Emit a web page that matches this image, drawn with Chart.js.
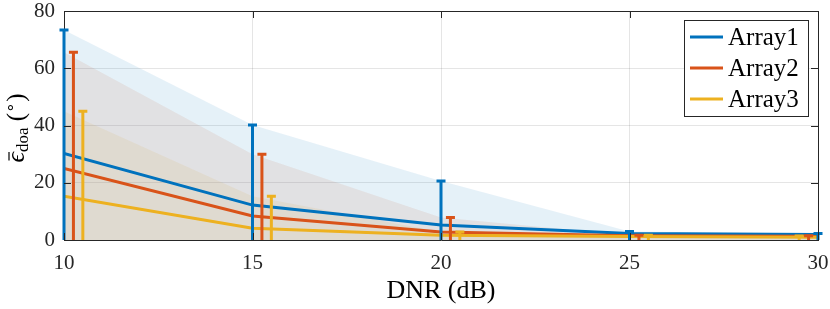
<!DOCTYPE html>
<html>
<head>
<meta charset="utf-8">
<script src="https://cdn.jsdelivr.net/npm/chart.js@4.4.0/dist/chart.umd.min.js"></script>
<style>
  html, body { margin: 0; padding: 0; background: #fff; }
  #wrap { width: 830px; height: 309px; }
</style>
</head>
<body>
<div id="wrap"><canvas id="doaChart"></canvas></div>
<script>
// DNR values on the x axis
const dnr = [10, 15, 20, 25, 30];

// mean error per array
const mean1 = [30.2, 12.2, 5.2, 2.3, 1.9];
const mean2 = [25.0, 8.4, 2.8, 1.5, 1.3];
const mean3 = [15.3, 4.1, 1.7, 1.2, 1.0];

// upper end of the error bars / shaded band
const upper1 = [73.4, 40.2, 20.6, 3.0, 2.3];
const upper2 = [65.6, 30.0, 7.9, 1.7, 1.5];
const upper3 = [45.0, 15.3, 2.8, 1.7, 1.4];

// error bars are nudged sideways so they do not overlap
const shift1 = [0, 0, 0, 0, 0];
const shift2 = [0.25, 0.25, 0.25, 0.25, -0.25];
const shift3 = [0.5, 0.5, 0.5, 0.5, -0.5];

const seriesNames = ['Array1', 'Array2', 'Array3'];
const colors = ['#0072BD', '#D95319', '#EDB120'];
const shades = ['rgba(0,114,189,0.1)', 'rgba(217,83,25,0.1)', 'rgba(237,177,32,0.1)'];

const means = [mean1, mean2, mean3];
const uppers = [upper1, upper2, upper3];
const shifts = [shift1, shift2, shift3];

const serif = 'Liberation Serif';
const axisColor = '#262626';

function pts(ys) {
    return dnr.map((x, i) => ({ x: x, y: ys[i] }));
}

const datasets = [];
// shaded bands from 0 up to the upper bound
uppers.forEach((u, k) => {
    datasets.push({
        label: seriesNames[k] + ' band',
        data: pts(u),
        fill: 'origin',
        backgroundColor: shades[k],
        borderWidth: 0,
        pointRadius: 0,
        tension: 0,
        order: 10 + k
    });
});
// mean lines
means.forEach((m, k) => {
    datasets.push({
        label: seriesNames[k],
        data: pts(m),
        fill: false,
        borderColor: colors[k],
        borderWidth: 3,
        pointRadius: 0,
        tension: 0,
        order: 3 - k
    });
});

// error bars (from 0 to upper, cap on top)
const errorBars = {
    id: 'errorBars',
    afterDatasetsDraw(chart) {
        const { ctx, scales: { x, y } } = chart;
        ctx.save();
        uppers.forEach((u, k) => {
            ctx.strokeStyle = colors[k];
            ctx.lineWidth = 3;
            dnr.forEach((d, i) => {
                const px = x.getPixelForValue(d + shifts[k][i]);
                const y0 = y.getPixelForValue(0);
                const y1 = y.getPixelForValue(u[i]);
                ctx.beginPath();
                ctx.moveTo(px, y0);
                ctx.lineTo(px, y1);
                ctx.moveTo(px - 4.5, y1);
                ctx.lineTo(px + 4.5, y1);
                ctx.stroke();
            });
        });
        ctx.restore();
    }
};

// box, inward ticks, legend and y title
const decorations = {
    id: 'decorations',
    afterDraw(chart) {
        const { ctx, chartArea: a, scales: { x, y } } = chart;
        ctx.save();
        ctx.strokeStyle = axisColor;
        ctx.lineWidth = 1;
        ctx.beginPath();
        ctx.moveTo(a.left, a.top + 0.5);
        ctx.lineTo(a.right + 0.5, a.top + 0.5);
        ctx.lineTo(a.right + 0.5, a.bottom);
        ctx.stroke();

        const tl = 7;
        ctx.beginPath();
        x.ticks.forEach(t => {
            const px = Math.round(x.getPixelForValue(t.value)) + 0.5;
            ctx.moveTo(px, a.bottom); ctx.lineTo(px, a.bottom - tl);
            ctx.moveTo(px, a.top); ctx.lineTo(px, a.top + tl);
        });
        y.ticks.forEach(t => {
            const py = Math.round(y.getPixelForValue(t.value)) + 0.5;
            ctx.moveTo(a.left, py); ctx.lineTo(a.left + tl, py);
            ctx.moveTo(a.right, py); ctx.lineTo(a.right - tl, py);
        });
        ctx.stroke();

        // legend
        const lx = 684.5, ly = 20.5, lw = 124, lh = 96;
        ctx.fillStyle = '#fff';
        ctx.fillRect(lx, ly, lw, lh);
        ctx.strokeStyle = axisColor;
        ctx.strokeRect(lx, ly, lw, lh);
        ctx.font = '25px "Liberation Serif"';
        ctx.textBaseline = 'middle';
        ctx.textAlign = 'left';
        seriesNames.forEach((name, k) => {
            const yy = 37 + k * 31;
            ctx.strokeStyle = colors[k];
            ctx.lineWidth = 3;
            ctx.beginPath();
            ctx.moveTo(690, yy);
            ctx.lineTo(723, yy);
            ctx.stroke();
            ctx.fillStyle = '#000';
            ctx.fillText(name, 728, yy + 1);
        });

        // y axis title: eps-bar_doa (deg)
        ctx.translate(24, 128);
        ctx.rotate(-Math.PI / 2);
        ctx.fillStyle = '#000';
        ctx.strokeStyle = '#000';
        ctx.textBaseline = 'alphabetic';
        const parts = [
            { t: '\u03F5', f: 'italic 26px "Liberation Serif"', dy: 0 },
            { t: 'doa', f: '17px "Liberation Serif"', dy: 4 },
            { t: ' (', f: '25px "Liberation Serif"', dy: 0 },
            { t: '\u2218', f: '17px "Liberation Serif"', dy: -9 },
            { t: ')', f: '25px "Liberation Serif"', dy: 0 }
        ];
        let total = 0;
        parts.forEach(p => { ctx.font = p.f; p.w = ctx.measureText(p.t).width; total += p.w; });
        let cx = -total / 2;
        parts.forEach((p, i) => {
            ctx.font = p.f;
            ctx.fillText(p.t, cx, p.dy);
            if (i === 0) {
                ctx.lineWidth = 1.2;
                ctx.beginPath();
                ctx.moveTo(cx + 2, -15);
                ctx.lineTo(cx + p.w, -15);
                ctx.stroke();
            }
            cx += p.w;
        });
        ctx.restore();
    }
};

new Chart(document.getElementById('doaChart'), {
    type: 'line',
    data: { datasets: datasets },
    options: {
        responsive: true,
        maintainAspectRatio: false,
        animation: false,
        layout: { padding: { top: 11, right: 12, left: 0, bottom: 0 } },
        plugins: {
            legend: { display: false },
            tooltip: { enabled: false }
        },
        scales: {
            x: {
                type: 'linear',
                min: 10,
                max: 30,
                afterFit: s => { s.height = 69; s.paddingLeft = 0; s.paddingRight = 0; },
                ticks: {
                    stepSize: 5,
                    font: { family: serif, size: 21 },
                    color: axisColor,
                    padding: 11,
                    maxRotation: 0
                },
                grid: { color: 'rgba(38,38,38,0.12)', drawTicks: false },
                border: { color: axisColor, width: 1 },
                title: {
                    display: true,
                    text: 'DNR (dB)',
                    font: { family: serif, size: 26 },
                    color: '#000',
                    padding: { top: 0, bottom: 2 }
                }
            },
            y: {
                min: 0,
                max: 80,
                afterFit: s => { s.width = 64; s.paddingTop = 0; s.paddingBottom = 0; },
                ticks: {
                    stepSize: 20,
                    font: { family: serif, size: 21 },
                    color: axisColor,
                    padding: 9
                },
                grid: { color: 'rgba(38,38,38,0.12)', drawTicks: false },
                border: { color: axisColor, width: 1 }
            }
        }
    },
    plugins: [errorBars, decorations]
});
</script>
</body>
</html>
